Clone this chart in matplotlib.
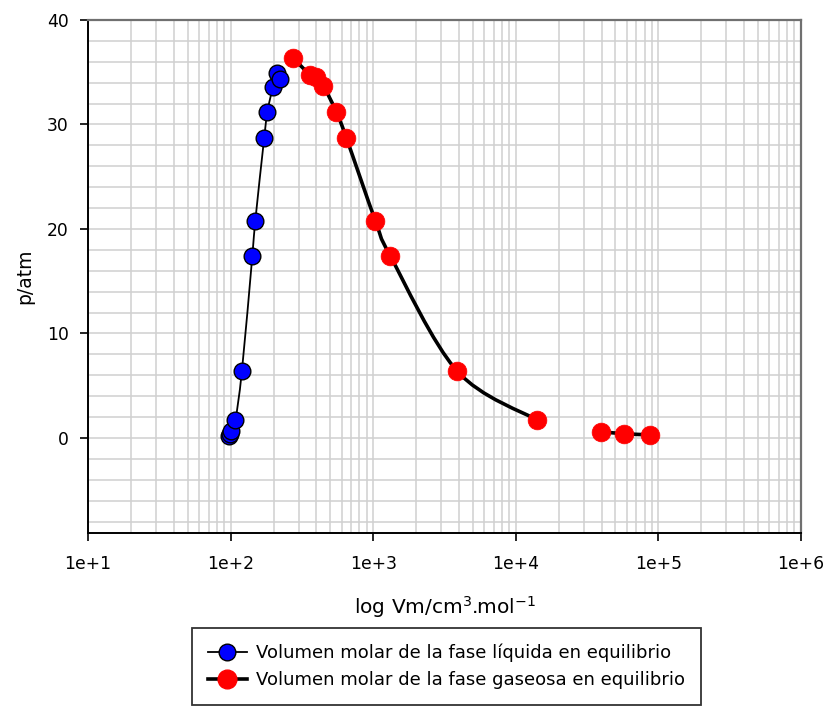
import numpy as np
import matplotlib
matplotlib.use("Agg")
import matplotlib.pyplot as plt
from matplotlib.path import Path
from matplotlib.patches import PathPatch
from matplotlib.lines import Line2D
from matplotlib.ticker import FixedLocator, LogLocator, MultipleLocator, FuncFormatter, NullFormatter

# ---- data ----
liq_v = [97, 99, 101, 108, 120, 142, 149, 172, 181, 198, 211, 223]
liq_p = [0.2, 0.4, 0.7, 1.7, 6.4, 17.4, 20.8, 28.7, 31.2, 33.6, 34.9, 34.4]

gas_v = [275, 362, 399, 447, 552, 649, 1035, 1320, 3880, 14160, 39400, 57200, 87100]
gas_p = [36.4, 34.7, 34.5, 33.7, 31.2, 28.7, 20.8, 17.4, 6.4, 1.7, 0.6, 0.4, 0.3]
gas_breaks = [10]  # line is interrupted before this index

liq_label = "Volumen molar de la fase líquida en equilibrio"
gas_label = "Volumen molar de la fase gaseosa en equilibrio"
x_label = r"log Vm/cm$^3$.mol$^{-1}$"
y_label = "p/atm"
x_ticks = [1e1, 1e2, 1e3, 1e4, 1e5, 1e6]
x_ticklabels = ["1e+1", "1e+2", "1e+3", "1e+4", "1e+5", "1e+6"]
y_ticks = [0, 10, 20, 30, 40]

plt.rcParams['font.family'] = ['DejaVu Sans']
plt.rcParams['mathtext.fontset'] = 'dejavusans'

fig = plt.figure(figsize=(8.23, 7.08), dpi=100)
ax = fig.add_axes([88/823, 1-533/708, 713/823, 513/708])
ax.set_xscale('log')
ax.set_xlim(1e1, 1e6)
ax.set_ylim(-9.1, 40)

grid_c = '#d0d0d0'
ax.xaxis.set_major_locator(FixedLocator(x_ticks))
ax.xaxis.set_major_formatter(FuncFormatter(lambda v, p: x_ticklabels[x_ticks.index(v)] if v in x_ticks else ""))
ax.xaxis.set_minor_locator(LogLocator(base=10, subs=np.arange(2, 10), numticks=50))
ax.xaxis.set_minor_formatter(NullFormatter())
ax.yaxis.set_major_locator(FixedLocator(y_ticks))
ax.yaxis.set_minor_locator(MultipleLocator(2))
ax.grid(True, which='both', color=grid_c, lw=1.1)
ax.set_axisbelow(True)
ax.tick_params(which='minor', length=0)
ax.tick_params(which='major', length=6, width=1.2, direction='out', labelsize=12.3)
ax.tick_params(axis='x', which='major', pad=10)
ax.tick_params(axis='y', which='major', pad=8)

for s in ['left', 'bottom']:
    ax.spines[s].set_color('black')
    ax.spines[s].set_linewidth(1.4)
for s in ['top', 'right']:
    ax.spines[s].set_color('#707070')
    ax.spines[s].set_linewidth(1.6)

ax.set_xlabel(x_label, fontsize=14.5, labelpad=15)
ax.set_ylabel(y_label, fontsize=13.5, labelpad=9)


def smooth_patch(xs, ys, lw):
    u = np.log10(np.asarray(xs, float))
    v = np.asarray(ys, float)
    pts = np.column_stack([u, v])
    n = len(pts)
    verts = [pts[0]]
    codes = [Path.MOVETO]
    for i in range(n - 1):
        p0 = pts[max(i - 1, 0)]
        p1 = pts[i]
        p2 = pts[i + 1]
        p3 = pts[min(i + 2, n - 1)]
        c1 = p1 + (p2 - p0) / 6.0
        c2 = p2 - (p3 - p1) / 6.0
        verts += [c1, c2, p2]
        codes += [Path.CURVE4] * 3
    verts = np.array(verts)
    verts[:, 0] = 10 ** verts[:, 0]
    return PathPatch(Path(verts, codes), fill=False, edgecolor='black', lw=lw,
                     transform=ax.transData, zorder=3)


# liquid line + markers
ax.add_patch(smooth_patch(liq_v, liq_p, 1.3))
ax.plot(liq_v, liq_p, ls='none', marker='o', ms=12, mfc='#0000ff', mec='black', mew=1.0, zorder=4)

# gas line segments + markers
bounds = [0] + gas_breaks + [len(gas_v)]
for a, b in zip(bounds[:-1], bounds[1:]):
    ax.add_patch(smooth_patch(gas_v[a:b], gas_p[a:b], 2.6))
ax.plot(gas_v, gas_p, ls='none', marker='o', ms=13.5, mfc='#ff0000', mec='#ff0000', mew=0.5, zorder=5)

handles = [
    Line2D([], [], color='black', lw=1.3, marker='o', ms=12, mfc='#0000ff', mec='black', mew=1.0),
    Line2D([], [], color='black', lw=2.6, marker='o', ms=13.5, mfc='#ff0000', mec='#ff0000'),
]
leg = fig.legend(handles, [liq_label, gas_label], loc='center',
                 bbox_to_anchor=((190 + 703) / 2 / 823, 1 - (628 + 705) / 2 / 708),
                 fontsize=13, frameon=True, fancybox=False, borderpad=0.85,
                 labelspacing=0.5, handlelength=2.2, handletextpad=0.5)
leg.get_frame().set_edgecolor('black')
leg.get_frame().set_linewidth(1.3)

fig.savefig('out.png', dpi=100)
